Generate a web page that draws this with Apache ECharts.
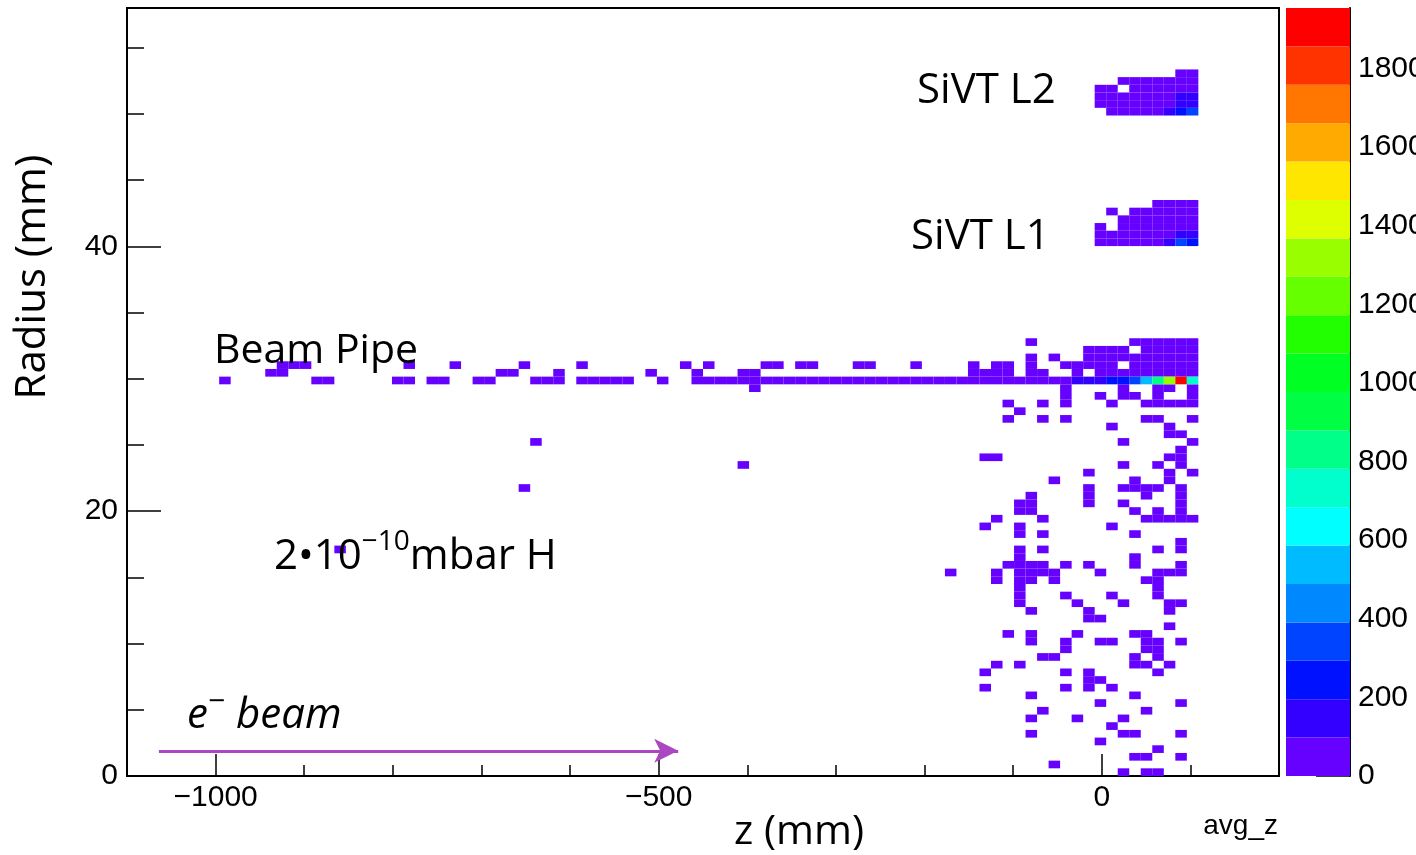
<!DOCTYPE html>
<html><head><meta charset="utf-8">
<script src="https://cdn.jsdelivr.net/npm/echarts@6/dist/echarts.min.js"></script>
<style>html,body{margin:0;padding:0;background:#fff}#c{width:1416px;height:855px}</style>
</head><body><div id="c"></div>
<script>
// ---- histogram definition ----
const zRange = [-1100, 200];      // mm
const rRange = [0, 58];           // mm
const zBinWidth = 13;             // mm  (100 bins)
const rBinWidth = 0.58;           // mm  (100 bins)
const countMax = 1954;            // colour scale maximum
const nLevels = 20;               // contour levels

// ---- tick labels ----
const zTicks = [-1000, -500, 0];
const zMinorTicks = [-900, -800, -700, -600, -400, -300, -200, -100, 100];
const rTicks = [0, 20, 40];
const rMinorTicks = [5, 10, 15, 25, 30, 35, 45, 50, 55];
const countTicks = [0, 200, 400, 600, 800, 1000, 1200, 1400, 1600, 1800];

// ---- colour palette (low -> high) ----
const palette = ['#6600FF', '#3300FF', '#0011FF', '#0044FF', '#0088FF', '#00BBFF', '#00FFFF',
  '#00FFCC', '#00FF88', '#00FF44', '#00FF22', '#22FF00', '#66FF00', '#99FF00', '#DDFF00',
  '#FFE600', '#FFAA00', '#FF7700', '#FF3300', '#FF0000'];

// ---- cells: [rBin, [zBins]] low-count entries ----
const scatterCount = 2;
const scatterRows = [
  [0, [86, 88, 89]], [1, [80]], [2, [87, 88, 91]], [3, [89]], [4, [84]],
  [5, [78, 86, 87, 91]], [6, [85]], [7, [78, 82, 86]], [8, [79, 88]], [9, [84, 91]],
  [10, [78, 87]], [11, [74, 81, 83, 85]], [12, [83, 84]], [13, [74, 81, 83, 89]],
  [14, [75, 77, 87, 88, 90]], [15, [79, 80, 87, 89]], [16, [81, 88, 89]],
  [17, [78, 81, 84, 85, 88, 89, 91]], [18, [76, 78, 82, 87, 88]], [19, [90]],
  [20, [83, 84]], [21, [78, 83, 90]], [22, [77, 82, 86, 90, 91]], [23, [77, 81, 85, 89]],
  [24, [77, 89]], [25, [75, 77, 78, 80, 88, 89]], [26, [71, 75, 77, 78, 79, 80, 84, 89, 90, 91]],
  [27, [76, 77, 78, 79, 81, 83, 87, 91]], [28, [77, 87]], [29, [18, 77, 79, 89, 91]],
  [30, [91]], [31, [77, 79, 87]], [32, [74, 77, 85]], [33, [75, 79, 88, 89, 90, 91, 92]],
  [34, [77, 78, 87, 89, 91]], [35, [77, 78, 83, 86, 91]], [36, [78, 83, 88, 91]],
  [37, [34, 83, 86, 87, 88, 89, 91]], [38, [80, 87, 90]], [39, [83, 90, 92]],
  [40, [53, 86, 89, 91]], [41, [74, 75, 90, 91]], [42, [91]], [43, [35, 86, 92]],
  [44, [90, 91]], [45, [85, 90]], [46, [76, 79, 81, 88, 89, 92]], [47, [77]],
  [48, [76, 79, 81, 85, 88, 89, 90, 91, 92]], [49, [81, 84, 86, 87, 89, 92]],
  [50, [54, 81, 86, 89, 90, 92]]
];
const beamPipeCount = 30;
const beamPipeRows = [
  [51, [8, 16, 17, 23, 24, 26, 27, 30, 31, 35, 36, 37, 39, 40, 41, 42, 43, 46,
        49, 50, 51, 52, 53, 54, 55, 56, 57, 58, 59, 60, 61, 62, 63, 64, 65, 66, 67, 68, 69,
        70, 71, 72, 73, 74, 75, 76, 77, 78, 79, 80, 81]],
  [52, [12, 13, 32, 33, 37, 45, 49, 53, 54, 73, 74, 75, 76, 78, 79, 82, 84, 85, 86, 87, 88, 89, 90, 91, 92]],
  [53, [13, 14, 15, 24, 28, 34, 39, 48, 50, 55, 56, 58, 59, 63, 64, 68, 73, 75, 76, 78,
        81, 82, 83, 84, 85, 87, 88, 89, 90, 91, 92]],
  [54, [78, 80, 83, 84, 85, 86, 87, 88, 89, 90, 91, 92]],
  [55, [83, 84, 85, 86, 88, 89, 90, 91, 92]],
  [56, [78, 87, 88, 89, 90, 91, 92]]
];
const sivtCount = 40;
const sivtL1Rows = [
  [69, [84, 85, 86, 87, 88, 89]], [70, [84, 85, 86, 87, 88, 89, 90]],
  [71, [84, 86, 87, 88, 89, 90, 91, 92]], [72, [86, 87, 88, 89, 90, 91, 92]],
  [73, [85, 87, 88, 89, 90, 91, 92]], [74, [89, 90, 91, 92]]
];
const sivtL2Rows = [
  [86, [85, 86, 87, 88, 89]], [87, [84, 85, 86, 87, 88, 89, 90]],
  [88, [84, 85, 86, 87, 88, 89, 90]], [89, [84, 85, 87, 88, 89, 90, 91, 92]],
  [90, [86, 87, 88, 89, 90, 91, 92]], [91, [91, 92]]
];
// ---- high-count cells: [zBin, rBin, count] ----
const hotCells = [
  [82, 51, 150], [83, 51, 160], [84, 51, 180], [85, 51, 240], [86, 51, 250], [87, 51, 340],
  [88, 51, 540], [89, 51, 830], [90, 51, 1320], [91, 51, 1954], [92, 51, 730],
  [90, 69, 150], [91, 69, 340], [92, 69, 240], [91, 70, 120], [92, 70, 120],
  [91, 87, 110], [92, 87, 110], [91, 88, 110], [92, 88, 110],
  [90, 86, 150], [91, 86, 240], [92, 86, 340]
];

// ---- build series data ----
function expand(rows, count) {
  const out = [];
  rows.forEach(([rb, zbs]) => zbs.forEach(zb => out.push([zb, rb, count])));
  return out;
}
const cells = [].concat(
  expand(scatterRows, scatterCount), expand(beamPipeRows, beamPipeCount),
  expand(sivtL1Rows, sivtCount), expand(sivtL2Rows, sivtCount), hotCells
).map(([zb, rb, c]) => [zRange[0] + zb * zBinWidth, rRange[0] + rb * rBinWidth, c]);

const step = countMax / nLevels;
const colorBands = palette.map((c, k) => [0, k * step, k * step + step / 2, (k + 1) * step]);
const pieces = palette.map((c, k) => k === nLevels - 1 ? { gte: k * step, color: c } : { gte: k * step, lt: (k + 1) * step, color: c });

const minus = v => (v < 0 ? '\u2212' + Math.abs(v) : String(v));
const axisFont = { fontFamily: 'Liberation Sans', fontSize: 30, color: '#000' };
const tickStyle = { color: '#000', width: 1.5 };
const noLine = { show: false, onZero: false };

const chart = echarts.init(document.getElementById('c'), null, { renderer: 'canvas' });
chart.setOption({
  animation: false,
  backgroundColor: '#fff',
  grid: [
    { left: 127, top: 8, width: 1152, height: 768, show: true, borderColor: '#000', borderWidth: 2,
      backgroundColor: 'transparent', containLabel: false, outerBoundsMode: 'none' },
    { left: 1286, top: 8, width: 64, height: 768, containLabel: false, outerBoundsMode: 'none' }
  ],
  xAxis: [
    { gridIndex: 0, type: 'value', min: zRange[0], max: zRange[1], position: 'bottom',
      axisLine: { show: true, onZero: false, lineStyle: { color: '#000', width: 2 } },
      axisTick: { show: true, inside: true, length: 22, customValues: zTicks, lineStyle: tickStyle },
      axisLabel: Object.assign({ customValues: zTicks, formatter: minus, margin: 7 }, axisFont),
      splitLine: { show: false } },
    { gridIndex: 0, type: 'value', min: zRange[0], max: zRange[1], position: 'bottom',
      axisLine: noLine,
      axisTick: { show: true, inside: true, length: 11, customValues: zMinorTicks, lineStyle: tickStyle },
      axisLabel: { show: false }, splitLine: { show: false } },
    { gridIndex: 1, type: 'value', min: 0, max: 1, show: false, axisLine: noLine }
  ],
  yAxis: [
    { gridIndex: 0, type: 'value', min: rRange[0], max: rRange[1], position: 'left',
      axisLine: { show: true, onZero: false, lineStyle: { color: '#000', width: 2 } },
      axisTick: { show: true, inside: true, length: 34, customValues: rTicks, lineStyle: tickStyle },
      axisLabel: Object.assign({ customValues: rTicks, margin: 9, formatter: minus }, axisFont),
      splitLine: { show: false } },
    { gridIndex: 0, type: 'value', min: rRange[0], max: rRange[1], position: 'left',
      axisLine: noLine,
      axisTick: { show: true, inside: true, length: 17, customValues: rMinorTicks, lineStyle: tickStyle },
      axisLabel: { show: false }, splitLine: { show: false } },
    { gridIndex: 1, type: 'value', min: 0, max: countMax, position: 'right',
      axisLine: { show: true, onZero: false, lineStyle: { color: '#000', width: 2 } },
      axisTick: { show: true, inside: true, length: 34, customValues: countTicks, lineStyle: tickStyle },
      axisLabel: Object.assign({ customValues: countTicks, margin: 8, formatter: v => String(v) }, axisFont),
      splitLine: { show: false } }
  ],
  visualMap: [{ type: 'piecewise', show: false, dimension: 2, seriesIndex: [0, 1], pieces: pieces }],
  series: [
    { type: 'custom', xAxisIndex: 0, yAxisIndex: 0, data: cells, z: 2,
      renderItem: (params, api) => {
        const z0 = api.value(0), r0 = api.value(1);
        const a = api.coord([z0, r0]);
        const b = api.coord([z0 + zBinWidth, r0 + rBinWidth]);
        return { type: 'rect', shape: { x: a[0], y: b[1], width: b[0] - a[0], height: a[1] - b[1] },
          style: { fill: api.visual('color') } };
      },
      markLine: { silent: true, symbol: ['none', 'arrow'], symbolSize: [18, 24],
        lineStyle: { color: '#AB47C1', width: 3, type: 'solid' }, label: { show: false },
        data: [[{ coord: [-1064, 1.9] }, { coord: [-478, 1.9] }]] } },
    { type: 'custom', xAxisIndex: 2, yAxisIndex: 2, data: colorBands,
      renderItem: (params, api) => {
        const a = api.coord([0, api.value(1)]);
        const b = api.coord([1, api.value(3)]);
        return { type: 'rect', shape: { x: a[0], y: b[1], width: b[0] - a[0], height: a[1] - b[1] },
          style: { fill: api.visual('color') } };
      } }
  ],
  graphic: [
    { type: 'text', x: 917, y: 91, z: 100, style: { text: 'SiVT L2', font: '42px "Open Sans"', fill: '#000', verticalAlign: 'middle' } },
    { type: 'text', x: 911, y: 237, z: 100, style: { text: 'SiVT L1', font: '42px "Open Sans"', fill: '#000', verticalAlign: 'middle' } },
    { type: 'text', x: 214, y: 351, z: 100, style: { text: 'Beam Pipe', font: '41px "Open Sans"', fill: '#000', verticalAlign: 'middle' } },
    { type: 'text', x: 274, y: 553, z: 100, style: { text: '{a|2•10}{s|\u221210}{a|mbar H}', fill: '#000', verticalAlign: 'middle',
        rich: { a: { font: '42px "Open Sans"', lineHeight: 50, verticalAlign: 'bottom' },
                s: { font: '28px "Open Sans"', lineHeight: 50, verticalAlign: 'top' } } } },
    { type: 'text', x: 187, y: 712, z: 100, style: { text: '{a|e}{s|\u2212}{a| beam}', fill: '#000', verticalAlign: 'middle',
        rich: { a: { font: 'italic 42px "Open Sans"', lineHeight: 50, verticalAlign: 'bottom' },
                s: { font: '30px "Open Sans"', lineHeight: 50, verticalAlign: 'top' } } } },
    { type: 'text', x: 799, y: 832, z: 100, style: { text: 'z (mm)', font: '41px "Open Sans"', fill: '#000', align: 'center', verticalAlign: 'middle' } },
    { type: 'text', x: 33, y: 277, rotation: Math.PI / 2, z: 100, style: { text: 'Radius (mm)', font: '42px "Open Sans"', fill: '#000', align: 'center', verticalAlign: 'middle' } },
    { type: 'text', x: 1278, y: 826, z: 100, style: { text: 'avg_z', font: '28px "Liberation Sans"', fill: '#000', align: 'right', verticalAlign: 'middle' } }
  ]
});
</script></body></html>
